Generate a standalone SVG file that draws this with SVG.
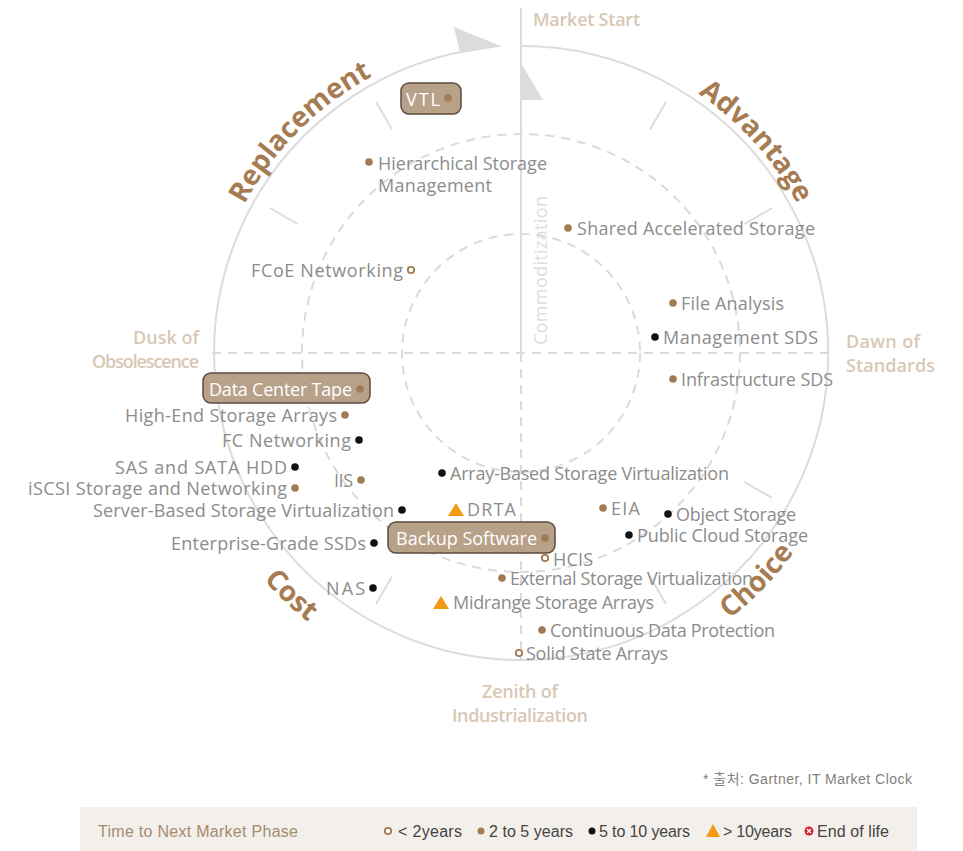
<svg xmlns="http://www.w3.org/2000/svg" width="963" height="851" viewBox="0 0 963 851">
<style>
  .ring{fill:none;stroke:#dcdcdc;stroke-width:2}
  .dash{fill:none;stroke:#dadada;stroke-width:2;stroke-dasharray:9 7}
  .tick{stroke:#dcdcdc;stroke-width:2}
  .head{fill:#dcdcdc}
  .lbl{font-family:"Open Sans","Liberation Sans",sans-serif;font-size:18px;fill:#8c8c8c}
  .end{text-anchor:end}
  .phase{font-family:"Open Sans","Liberation Sans",sans-serif;font-size:18px;font-weight:600;fill:#d8c8b5}
  .quad{font-family:"Open Sans","Liberation Sans",sans-serif;font-size:28px;font-weight:700;fill:#a67c52}
  .box{fill:#b8a189;stroke:#5c4b3e;stroke-width:1.5}
  .boxt{font-family:"Open Sans","Liberation Sans",sans-serif;font-size:18px;font-weight:500;fill:#ffffff}
  .m2{fill:#a07a52}
  .m5{fill:#111111}
  .m0{fill:#ffffff;stroke:#a07a52;stroke-width:1.8}
  .m10{fill:#f39a12}
  .leg{font-family:"Liberation Sans",sans-serif;font-size:16px;fill:#444444}
</style>
<defs>
  <path id="arc-replacement" d="M208.2 325.6 A314 314 0 0 1 493.6 40.2"/>
  <path id="arc-advantage" d="M564.7 42 A314 314 0 0 1 834.8 342"/>
  <path id="arc-choice" d="M556.3 689.1 A338 338 0 0 0 858.2 376.6"/>
  <path id="arc-cost" d="M180.2 391.8 A343 343 0 0 0 500.1 695.3"/>
</defs>

<!-- clock face: rings, axes, hour ticks, direction arrows -->
<g id="clock-face">
  <circle class="dash" cx="521" cy="353" r="119"/>
  <circle class="dash" cx="521" cy="353" r="219"/>
  <path class="ring" d="M521 46 A307 307 0 1 1 470 50.3"/>
  <polygon class="head" points="454,27 502,46.5 460,53"/>
  <path class="ring" d="M521 8 V353"/>
  <path class="dash" d="M521 353 V660"/>
  <path class="dash" d="M212 353 H828"/>
  <polygon class="head" points="521,63 543,100 521,100"/>
  <line class="tick" x1="650" y1="129.6" x2="666" y2="101.9"/>
  <line class="tick" x1="744.4" y1="224" x2="772.1" y2="208"/>
  <line class="tick" x1="744.4" y1="482" x2="772.1" y2="498"/>
  <line class="tick" x1="650" y1="576.4" x2="666" y2="604.1"/>
  <line class="tick" x1="392" y1="576.4" x2="376" y2="604.1"/>
  <line class="tick" x1="297.6" y1="224" x2="269.9" y2="208"/>
  <line class="tick" x1="392" y1="129.6" x2="376" y2="101.9"/>
  <text transform="translate(547,345) rotate(-90)" font-family="Open Sans, Liberation Sans, sans-serif" font-size="18" fill="#dedede" textLength="149">Commoditization</text>
</g>

<!-- phase names at the four axis ends -->
<g id="phase-labels">
  <text class="phase" x="533" y="26" textLength="107">Market Start</text>
  <text class="phase" x="846" y="348" textLength="74">Dawn of</text>
  <text class="phase" x="846" y="372" textLength="89">Standards</text>
  <text class="phase" x="520" y="698" text-anchor="middle" textLength="76">Zenith of</text>
  <text class="phase" x="520" y="722" text-anchor="middle" textLength="136">Industrialization</text>
  <text class="phase end" x="199" y="344" textLength="66">Dusk of</text>
  <text class="phase end" x="199" y="368" textLength="107">Obsolescence</text>
</g>

<!-- quadrant names set on the rim -->
<g id="quadrant-labels">
  <text class="quad" font-size="30"><textPath href="#arc-replacement" startOffset="50%" text-anchor="middle">Replacement</textPath></text>
  <text class="quad"><textPath href="#arc-advantage" startOffset="50%" text-anchor="middle">Advantage</textPath></text>
  <text class="quad"><textPath href="#arc-choice" startOffset="50%" text-anchor="middle">Choice</textPath></text>
  <text class="quad"><textPath href="#arc-cost" startOffset="50%" text-anchor="middle">Cost</textPath></text>
</g>

<!-- technologies -->
<g id="item-vtl">
  <rect class="box" x="401" y="83" width="60" height="31" rx="8"/>
  <text class="boxt" x="406" y="106" textLength="34">VTL</text>
  <circle class="m2" cx="448" cy="98" r="3.8"/>
</g>
<g id="item-hsm">
  <circle class="m2" cx="369" cy="162" r="3.8"/>
  <text class="lbl" x="378" y="170" textLength="169">Hierarchical Storage</text>
  <text class="lbl" x="378" y="192" textLength="114">Management</text>
</g>
<g id="item-shared-accelerated-storage">
  <circle class="m2" cx="568" cy="228" r="3.8"/>
  <text class="lbl" x="577" y="235" textLength="238">Shared Accelerated Storage</text>
</g>
<g id="item-fcoe">
  <text class="lbl end" x="403" y="277" textLength="152">FCoE Networking</text>
  <circle class="m0" cx="411" cy="270" r="3.2"/>
</g>
<g id="item-file-analysis">
  <circle class="m2" cx="673" cy="303" r="3.8"/>
  <text class="lbl" x="681" y="310" textLength="103">File Analysis</text>
</g>
<g id="item-management-sds">
  <circle class="m5" cx="655" cy="337" r="3.8"/>
  <text class="lbl" x="663" y="344" textLength="155">Management SDS</text>
</g>
<g id="item-infrastructure-sds">
  <circle class="m2" cx="673" cy="379" r="3.8"/>
  <text class="lbl" x="681" y="386" textLength="152">Infrastructure SDS</text>
</g>
<g id="item-data-center-tape">
  <rect class="box" x="203" y="373" width="167" height="30" rx="8"/>
  <text class="boxt" x="209" y="396" textLength="143">Data Center Tape</text>
  <circle class="m2" cx="360" cy="389" r="3.8"/>
</g>
<g id="item-high-end-arrays">
  <text class="lbl end" x="337" y="422" textLength="212">High-End Storage Arrays</text>
  <circle class="m2" cx="345" cy="415" r="3.8"/>
</g>
<g id="item-fc-networking">
  <text class="lbl end" x="351" y="447" textLength="129">FC Networking</text>
  <circle class="m5" cx="359" cy="440" r="3.8"/>
</g>
<g id="item-sas-sata">
  <text class="lbl end" x="287" y="474" textLength="172">SAS and SATA HDD</text>
  <circle class="m5" cx="295" cy="467" r="3.8"/>
</g>
<g id="item-iscsi">
  <text class="lbl end" x="287" y="495" textLength="259">iSCSI Storage and Networking</text>
  <circle class="m2" cx="295" cy="488" r="3.8"/>
</g>
<g id="item-iis">
  <text class="lbl end" x="353" y="487" textLength="19">IIS</text>
  <circle class="m2" cx="361" cy="480" r="3.8"/>
</g>
<g id="item-server-virtualization">
  <text class="lbl end" x="394" y="517" textLength="301">Server-Based Storage Virtualization</text>
  <circle class="m5" cx="402" cy="510" r="3.8"/>
</g>
<g id="item-enterprise-ssd">
  <text class="lbl end" x="366" y="550" textLength="195">Enterprise-Grade SSDs</text>
  <circle class="m5" cx="374" cy="543" r="3.8"/>
</g>
<g id="item-nas">
  <text class="lbl end" x="365" y="595" textLength="39">NAS</text>
  <circle class="m5" cx="373" cy="588" r="3.8"/>
</g>
<g id="item-array-virtualization">
  <circle class="m5" cx="442" cy="473" r="3.8"/>
  <text class="lbl" x="450" y="480" textLength="279">Array-Based Storage Virtualization</text>
</g>
<g id="item-drta">
  <polygon class="m10" points="448,516 464,516 456,503"/>
  <text class="lbl" x="467" y="516" textLength="49">DRTA</text>
</g>
<g id="item-backup-software">
  <rect class="box" x="388" y="522" width="167" height="31" rx="8"/>
  <text class="boxt" x="396" y="545" textLength="141">Backup Software</text>
  <circle class="m2" cx="545" cy="538" r="3.8"/>
</g>
<g id="item-hcis">
  <circle class="m0" cx="545" cy="558" r="3.2"/>
  <text class="lbl" x="553" y="566" textLength="40">HCIS</text>
</g>
<g id="item-eia">
  <circle class="m2" cx="603" cy="508" r="3.8"/>
  <text class="lbl" x="611" y="515" textLength="29">EIA</text>
</g>
<g id="item-object-storage">
  <circle class="m5" cx="668" cy="514" r="3.8"/>
  <text class="lbl" x="676" y="521" textLength="120">Object Storage</text>
</g>
<g id="item-public-cloud">
  <circle class="m5" cx="629" cy="535" r="3.8"/>
  <text class="lbl" x="637" y="542" textLength="171">Public Cloud Storage</text>
</g>
<g id="item-external-virtualization">
  <circle class="m2" cx="502" cy="578" r="3.8"/>
  <text class="lbl" x="510" y="585" textLength="243">External Storage Virtualization</text>
</g>
<g id="item-midrange-arrays">
  <polygon class="m10" points="433,609 449,609 441,596"/>
  <text class="lbl" x="453" y="609" textLength="201">Midrange Storage Arrays</text>
</g>
<g id="item-cdp">
  <circle class="m2" cx="542" cy="630" r="3.8"/>
  <text class="lbl" x="550" y="637" textLength="225">Continuous Data Protection</text>
</g>
<g id="item-solid-state-arrays">
  <circle class="m0" cx="519" cy="653" r="3.2"/>
  <text class="lbl" x="526" y="660" textLength="142">Solid State Arrays</text>
</g>

<!-- source note -->
<text id="source" x="703" y="784" font-family="Liberation Sans, Noto Sans CJK KR, sans-serif" font-size="14" fill="#7f7f7f" textLength="209">* 출처: Gartner, IT Market Clock</text>

<!-- legend band -->
<g id="legend">
  <rect x="80" y="807" width="837" height="44" fill="#f3efea"/>
  <text class="leg" x="98" y="837" style="fill:#a58b70" textLength="200">Time to Next Market Phase</text>
  <circle class="m0" cx="388" cy="831" r="3.2"/>
  <text class="leg" x="398" y="837" textLength="64">&lt; 2years</text>
  <circle class="m2" cx="481" cy="831" r="3.5"/>
  <text class="leg" x="489" y="837" textLength="84">2 to 5 years</text>
  <circle class="m5" cx="592" cy="831" r="3.5"/>
  <text class="leg" x="599" y="837" textLength="91">5 to 10 years</text>
  <polygon class="m10" points="706,837 720,837 713,824"/>
  <text class="leg" x="723" y="837" textLength="69">&gt; 10years</text>
  <circle cx="809" cy="831" r="4.5" fill="#d0202f"/>
  <path d="M807 829 L811 833 M811 829 L807 833" stroke="#ffffff" stroke-width="1.3"/>
  <text class="leg" x="817" y="837" textLength="72">End of life</text>
</g>
</svg>
